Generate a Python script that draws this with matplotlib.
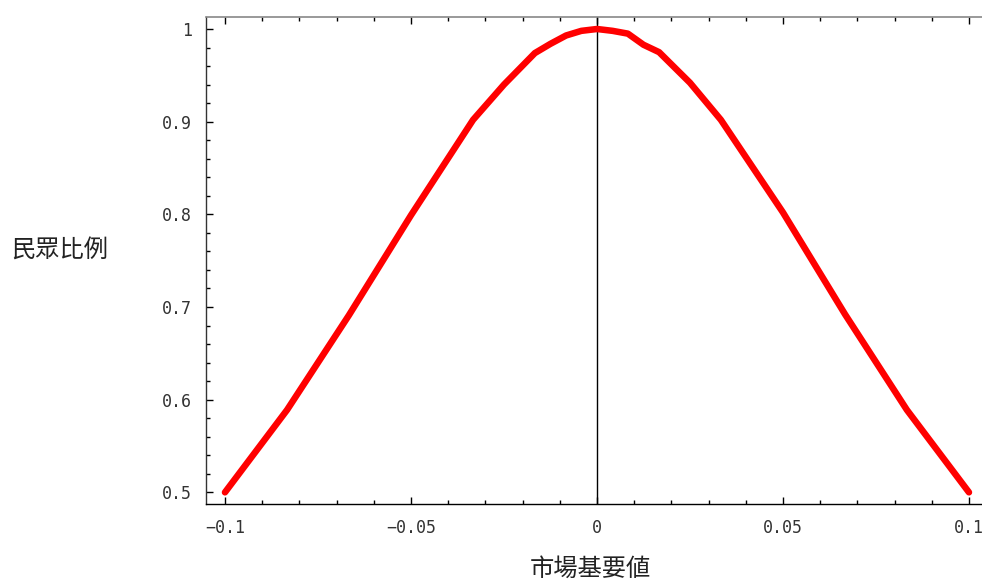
import matplotlib
matplotlib.use("Agg")
import matplotlib.pyplot as plt
from matplotlib.ticker import MultipleLocator, FuncFormatter

# market base value vs share of people
market_x = [-0.1, -0.0833, -0.0667, -0.05, -0.0333, -0.025, -0.0167, -0.0125,
            -0.0083, -0.0042, 0.0, 0.0042, 0.0083, 0.0125, 0.0167, 0.025,
            0.0333, 0.05, 0.0667, 0.0833, 0.1]
people_share = [0.5, 0.589, 0.691, 0.799, 0.902, 0.940, 0.974, 0.984,
                0.993, 0.998, 1.0, 0.998, 0.995, 0.983, 0.975, 0.942,
                0.902, 0.802, 0.692, 0.589, 0.5]

x_label = "市場基要値"
y_label = "民眾比例"
cjk = ["Noto Sans CJK TC", "DejaVu Sans"]

plt.rcParams['font.family'] = ['DejaVu Sans Mono', 'DejaVu Sans']

fig = plt.figure(figsize=(9.82, 5.81), dpi=100)
ax = fig.add_axes([0.2094, 0.1325, 0.7906, 0.8388])

ax.plot(market_x, people_share, color='#ff0000', linewidth=4.7,
        solid_capstyle='round', solid_joinstyle='round', zorder=3)
ax.axvline(0, color='black', linewidth=1.0, zorder=2)

ax.set_xlim(-0.1052, 0.1035)
ax.set_ylim(0.4874, 1.0133)

# frame: left, bottom, top (no right side)
ax.spines['right'].set_visible(False)
ax.spines['top'].set_color('#888888')
ax.spines['top'].set_linewidth(1.2)
ax.spines['left'].set_color('#333333')
ax.spines['bottom'].set_color('black')
for s in ('left', 'bottom'):
    ax.spines[s].set_linewidth(1.0)

ax.xaxis.set_major_locator(MultipleLocator(0.05))
ax.xaxis.set_minor_locator(MultipleLocator(0.01))
ax.yaxis.set_major_locator(MultipleLocator(0.1))
ax.yaxis.set_minor_locator(MultipleLocator(0.02))

def fmt(v, pos):
    if abs(v) < 1e-9:
        return "0"
    s = ("%.2f" % v).rstrip('0').rstrip('.')
    return s.replace('-', '\u2212')

ax.xaxis.set_major_formatter(FuncFormatter(fmt))
ax.yaxis.set_major_formatter(FuncFormatter(fmt))

ax.tick_params(axis='both', which='both', direction='in', colors='black',
               labelcolor='#333333', labelsize=12)
ax.tick_params(axis='x', which='both', top=True, bottom=True)
ax.tick_params(axis='y', which='both', left=True, right=False)
ax.tick_params(which='major', length=5, width=1)
ax.tick_params(which='minor', length=3, width=1)
ax.tick_params(axis='x', which='major', pad=11)
ax.tick_params(axis='y', which='major', pad=10)

fig.text(590 / 982, 1 - 569 / 581, x_label, ha='center', va='center',
         fontsize=17.5, family=cjk, color='#222222')
fig.text(11 / 982, 1 - 251 / 581, y_label, ha='left', va='center',
         fontsize=17.5, family=cjk, color='#222222')

fig.savefig("out.png", dpi=100, facecolor='white')
